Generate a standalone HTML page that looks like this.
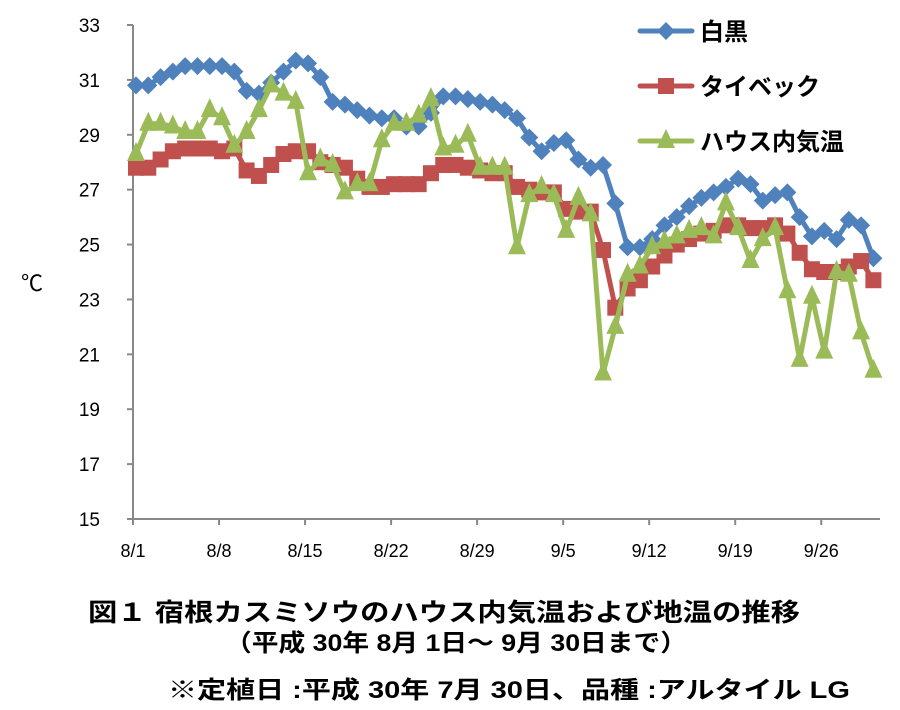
<!DOCTYPE html>
<html><head><meta charset="utf-8"><style>
body{margin:0;background:#fff;}
svg{display:block;font-family:"Liberation Sans","Noto Sans CJK JP",sans-serif;}
</style></head><body>
<svg id="chart" width="900" height="710" viewBox="0 0 900 710" xmlns="http://www.w3.org/2000/svg">
<g id="axes"></g>
<g id="series"></g>
<g id="legend"></g>
<text x="32" y="291" font-size="22" text-anchor="middle">℃</text>
<g font-weight="bold" fill="#000">
<text x="88" y="621" font-size="25" textLength="712" lengthAdjust="spacingAndGlyphs">図１ 宿根カスミソウのハウス内気温および地温の推移</text>
<text x="225" y="651" font-size="24" textLength="462" lengthAdjust="spacingAndGlyphs">（平成 30年 8月 1日～ 9月 30日まで）</text>
<text x="168" y="698" font-size="24" textLength="682" lengthAdjust="spacingAndGlyphs">※定植日 :平成 30年 7月 30日、品種 :アルタイル LG</text>
</g>
</svg>
<script>
const xLabels = ["8/1","8/8","8/15","8/22","8/29","9/5","9/12","9/19","9/26"];
const yTicks = [15,17,19,21,23,25,27,29,31,33];
const seriesNames = ["白黒","タイベック","ハウス内気温"];
const shiroKuro = [30.8,30.8,31.1,31.3,31.5,31.5,31.5,31.5,31.3,30.6,30.5,30.9,31.3,31.7,31.6,31.1,30.2,30.1,29.9,29.7,29.6,29.6,29.3,29.3,29.8,30.4,30.4,30.3,30.2,30.1,29.9,29.6,28.9,28.4,28.7,28.8,28.1,27.8,27.9,26.5,24.9,24.9,25.2,25.7,26.0,26.4,26.7,26.9,27.1,27.4,27.2,26.6,26.8,26.9,26.0,25.3,25.5,25.2,25.9,25.7,24.5];
const tyvek = [27.8,27.8,28.1,28.4,28.5,28.5,28.5,28.4,28.5,27.7,27.5,27.9,28.3,28.4,28.4,28.0,27.9,27.8,27.4,27.1,27.1,27.2,27.2,27.2,27.6,27.9,27.9,27.8,27.7,27.6,27.6,27.1,27.0,26.9,26.9,26.3,26.2,26.2,24.8,22.7,23.4,23.7,24.2,24.6,25.0,25.2,25.4,25.5,25.7,25.7,25.6,25.6,25.7,25.4,24.7,24.1,24.0,24.0,24.2,24.4,23.7];
const houseAir = [28.3,29.4,29.4,29.3,29.1,29.1,29.9,29.6,28.6,29.1,29.9,30.8,30.5,30.2,27.6,28.1,27.9,26.9,27.2,27.2,28.8,29.4,29.4,29.7,30.3,28.5,28.6,29.0,27.8,27.8,27.8,24.9,26.8,27.1,26.8,25.5,26.7,26.1,20.3,22.0,23.9,24.2,24.9,25.1,25.3,25.5,25.6,25.3,26.5,25.6,24.4,25.2,25.6,23.3,20.8,23.1,21.1,24.0,23.9,21.8,20.4];

const NS="http://www.w3.org/2000/svg";
const X0=133, DX=12.29, Y0=519, YMIN=15, YMAX=33, YTOP=25;
function xs(i){return X0+3+i*DX;}
function ys(v){return Y0-(v-YMIN)*(Y0-YTOP)/(YMAX-YMIN);}
function mk(tag,attrs,parent){const e=document.createElementNS(NS,tag);for(const k in attrs)e.setAttribute(k,attrs[k]);parent.appendChild(e);return e;}
const axes=document.getElementById('axes');
let e=mk('line',{x1:X0,y1:YTOP,x2:X0,y2:Y0,stroke:'#888','stroke-width':2},axes);


e=mk('line',{x1:X0,y1:Y0,x2:880,y2:Y0,stroke:'#888','stroke-width':2},axes);


yTicks.forEach(v=>{
  const t=mk('line',{x1:X0-6,y1:ys(v),x2:X0,y2:ys(v),stroke:'#888','stroke-width':2},axes);
  
  
  const l=mk('text',{x:100,y:ys(v)+7,'font-size':19,'text-anchor':'end'},axes);
  l.textContent=v;
  
  
});
xLabels.forEach((s,k)=>{
  const x=X0+k*7*DX;
  const t=mk('line',{x1:x,y1:Y0,x2:x,y2:Y0+6,stroke:'#888','stroke-width':2},axes);
  
  
  const l=mk('text',{x:x,y:Y0+38,'font-size':18,'text-anchor':'middle'},axes);
  l.textContent=s;
  
  
});
const colors=['#4f81bd','#c0504d','#9bbb59'];
const data=[shiroKuro,tyvek,houseAir];
function marker(type,x,y,c,g){
  if(type===0)return mk('polygon',{points:`${x},${y-9} ${x+9},${y} ${x},${y+9} ${x-9},${y}`,fill:c},g);
  if(type===1)return mk('rect',{x:x-8,y:y-8,width:16,height:16,fill:c},g);
  return mk('polygon',{points:`${x},${y-12} ${x+9},${y+7} ${x-9},${y+7}`,fill:c},g);
}
const sg=document.getElementById('series');
data.forEach((arr,s)=>{
  const g=mk('g',{},sg);
  
  
  const line=mk('polyline',{points:arr.map((v,i)=>xs(i)+','+ys(v)).join(' '),fill:'none',stroke:colors[s],'stroke-width':5,'stroke-linejoin':'round'},g);
  
  
  arr.forEach((v,i)=>{
    const m=marker(s,xs(i),ys(v),colors[s],g);
    
    
  });
});
const lg=document.getElementById('legend');
seriesNames.forEach((n,s)=>{
  const y=31+s*55;
  const g=mk('g',{},lg);
  
  
  mk('line',{x1:640,y1:y,x2:692,y2:y,stroke:colors[s],'stroke-width':5,'stroke-linecap':'round'},g);
  marker(s,666,y,colors[s],g);
  const t=mk('text',{x:700,y:y+9,'font-size':24,'font-weight':'bold'},g);
  t.textContent=n;
  
  
});
</script>
</body></html>
